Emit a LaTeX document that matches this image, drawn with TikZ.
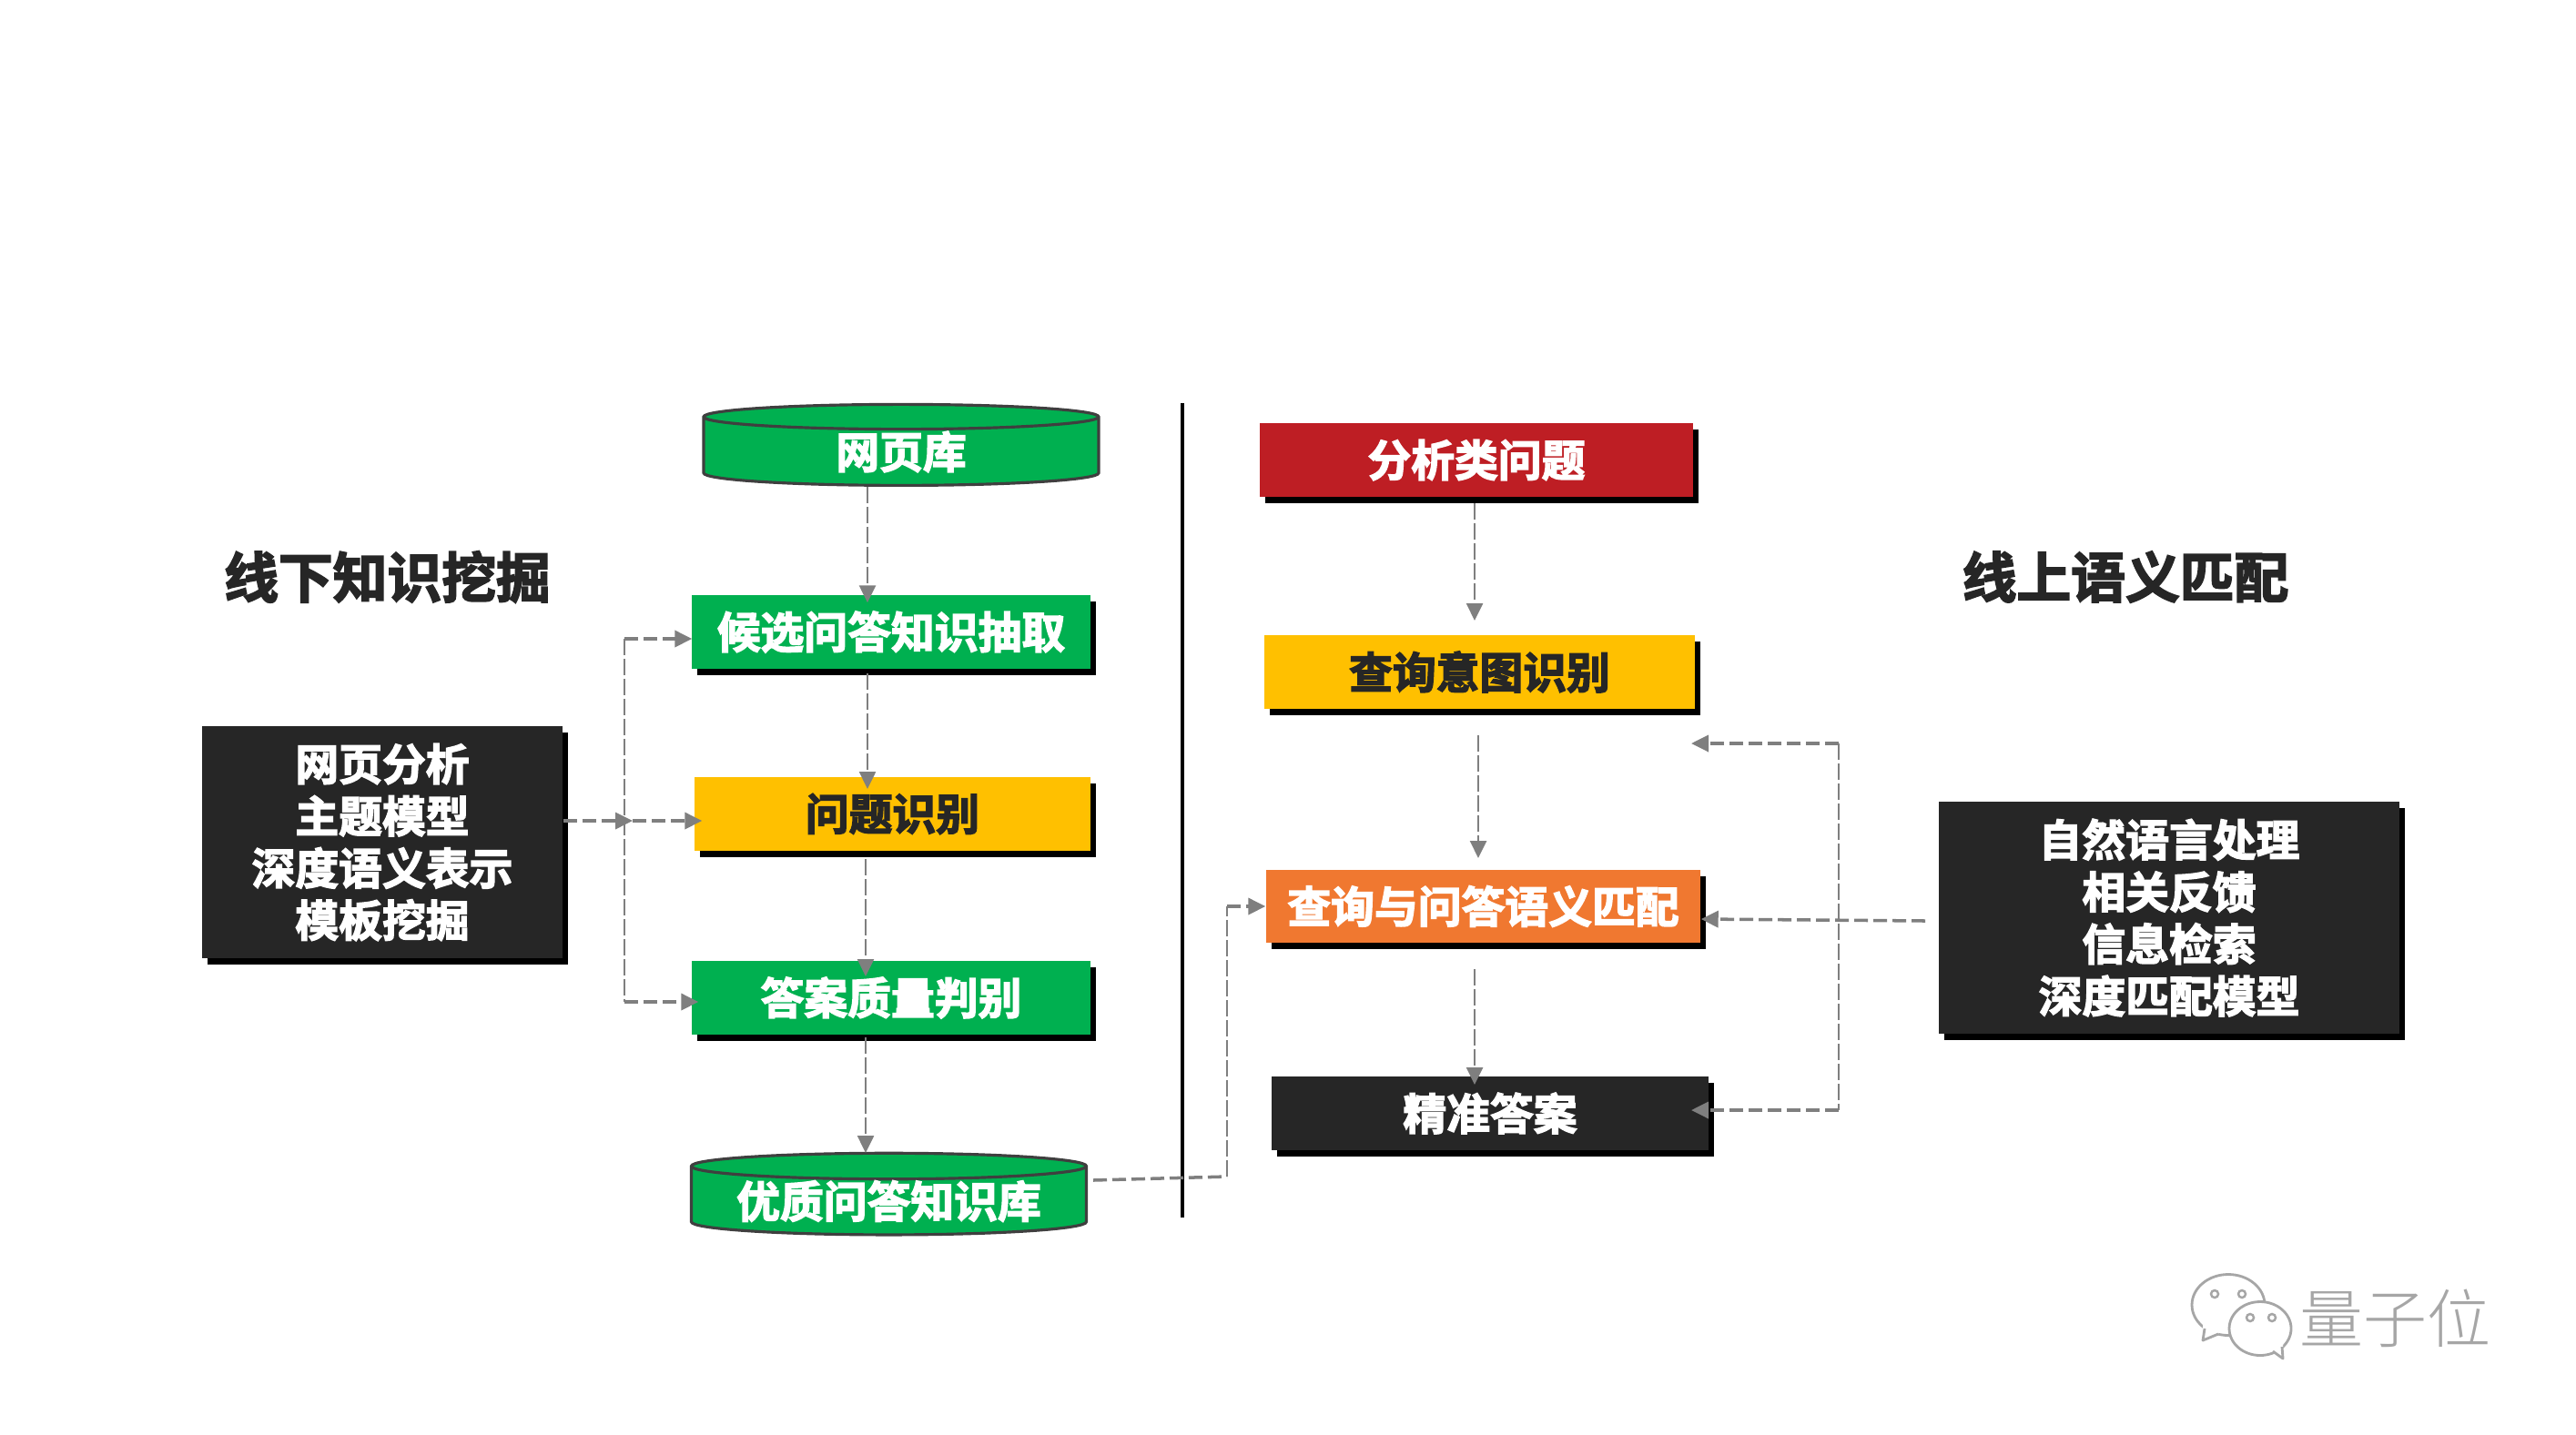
\documentclass[tikz,border=0pt]{standalone}
\usepackage{fontspec}
\setmainfont{Noto Sans CJK SC}[BoldFont={Noto Sans CJK SC Bold},BoldFeatures={FakeBold=3}]
\newfontfamily\wmfont{Noto Sans CJK SC Light}
\usetikzlibrary{arrows.meta,positioning,shapes.geometric,calc}
\definecolor{boxgreen}{HTML}{00B050}
\definecolor{boxyellow}{HTML}{FFC000}
\definecolor{boxred}{HTML}{BE1E24}
\definecolor{boxorange}{HTML}{F07830}
\definecolor{boxdark}{HTML}{262626}
\definecolor{arrowgray}{HTML}{7F7F7F}
\definecolor{cylline}{HTML}{3F3F3F}
\definecolor{wmgray}{HTML}{A6A6A6}
\tikzset{
  stepbox/.style={rectangle,inner sep=0pt,align=center,font=\fontsize{13.6}{16.3}\selectfont\bfseries,text=white,
    preaction={draw=none,fill=black,transform canvas={xshift=0.06cm,yshift=-0.065cm}}},
  dbnode/.style={cylinder,shape border rotate=90,aspect=0.19,draw=cylline,line width=0.9pt,inner sep=0pt,
    cylinder uses custom fill,cylinder body fill=boxgreen,cylinder end fill=boxgreen,
    minimum width=4.34cm,font=\fontsize{13.6}{16.3}\selectfont\bfseries,text=white},
  titlenode/.style={font=\fontsize{17}{20}\selectfont\bfseries,text=boxdark,inner sep=0pt},
  thinarrow/.style={-{Triangle[length=1.9mm,width=1.8mm]},line width=0.7pt,dash pattern=on 1.8mm off 0.4mm,arrowgray},
  fatarrow/.style={-{Triangle[length=1.9mm,width=1.8mm]},line width=1pt,dash pattern=on 1.5mm off 0.6mm,arrowgray},
  fatline/.style={line width=1pt,dash pattern=on 1.5mm off 0.6mm,arrowgray},
  thinline/.style={line width=0.7pt,dash pattern=on 1.8mm off 0.4mm,arrowgray},
  bubble/.style={draw=wmgray,fill=white,line width=0.8pt,line join=round},
  bubbleeye/.style={draw=wmgray,fill=white,line width=0.7pt}
}
\begin{document}
\begin{tikzpicture}
\useasboundingbox (0,0) rectangle (28.3,-15.76);

% left column
\node[titlenode] (offtitle) at (4.255,-6.34) {线下知识挖掘};
\node[dbnode,minimum height=0.89cm] (webdb) at (9.9,-4.965) {网页库};
\node[stepbox,fill=boxgreen,minimum width=4.38cm,minimum height=0.81cm] (cand) at (9.79,-6.945) {候选问答知识抽取};
\node[stepbox,fill=boxyellow,text=boxdark,minimum width=4.35cm,minimum height=0.81cm] (ques) at (9.805,-8.945) {问题识别};
\node[stepbox,fill=boxgreen,minimum width=4.38cm,minimum height=0.81cm] (qual) at (9.79,-10.965) {答案质量判别};
\node[dbnode,aspect=0.085,minimum height=0.89cm] (qadb) at (9.765,-13.2) {优质问答知识库};
\node[stepbox,fill=boxdark,minimum width=3.96cm,minimum height=2.55cm] (mine) at (4.2,-9.255) {网页分析\\主题模型\\深度语义表示\\模板挖掘};

\draw[line width=1pt,black] (12.99,-4.43) coordinate (sepa) -- (12.99,-13.38) coordinate (sepb);

% right column
\node[titlenode] (ontitle) at (23.35,-6.34) {线上语义匹配};
\node[stepbox,fill=boxred,minimum width=4.76cm,minimum height=0.81cm] (kind) at (16.22,-5.055) {分析类问题};
\node[stepbox,fill=boxyellow,text=boxdark,minimum width=4.73cm,minimum height=0.81cm] (intent) at (16.255,-7.385) {查询意图识别};
\node[stepbox,fill=boxorange,minimum width=4.77cm,minimum height=0.80cm] (match) at (16.295,-9.96) {查询与问答语义匹配};
\node[stepbox,fill=boxdark,minimum width=4.80cm,minimum height=0.81cm] (exact) at (16.37,-12.235) {精准答案};
\node[stepbox,fill=boxdark,minimum width=5.06cm,minimum height=2.55cm] (tools) at (23.83,-10.085) {自然语言处理\\相关反馈\\信息检索\\深度匹配模型};

% left arrows
\draw[thinarrow] ([xshift=-0.37cm]webdb.south) -- ([xshift=-0.26cm,yshift=-0.09cm]cand.north);
\draw[thinarrow] (9.53,-7.40) -- (9.53,-8.67);
\draw[thinarrow] (9.51,-9.44) -- (9.51,-10.73);
\draw[thinarrow] (9.51,-11.40) -- (9.51,-12.67);

\coordinate (branch) at (6.86,-9.02);
\draw[fatarrow] (mine.east |- branch) -- ([xshift=0.09cm]branch);
\draw[fatarrow] ([xshift=0.09cm]branch) -- ([xshift=0.09cm]ques.west |- branch);
\draw[fatarrow] (branch |- 0,-7.02) coordinate (ba) -- ([xshift=0.01cm]cand.west |- ba);
\draw[fatarrow] (branch |- 0,-11.01) coordinate (bb) -- ([xshift=0.08cm]qual.west |- bb);
\draw[thinline] (ba) -- (bb);

% right arrows
\draw[thinarrow] (16.20,-5.53) -- (16.20,-6.82);
\draw[thinarrow] (16.24,-8.08) -- (16.24,-9.43);
\draw[thinarrow] (16.20,-10.65) -- (16.20,-11.92);
\draw[fatarrow] (21.15,-10.12) -- (match.east |- 0,-10.10);
\coordinate (fb) at (20.20,-8.17);
\coordinate (fc) at (20.20,-12.20);
\draw[thinline] (fb) -- (fc);
\draw[fatarrow] (fb) -- (18.58,-8.17);
\draw[fatarrow] (fc) -- (18.58,-12.20);
\draw[fatline] (12.01,-12.97) -- (13.48,-12.93) coordinate (qb);
\draw[thinline] (qb) -- (13.48,-9.96) coordinate (qc);
\draw[fatarrow] (qc) -- (match.west);

% watermark
\draw[bubble] (24.48,-14.34) ellipse[x radius=0.40,y radius=0.335];
\fill[white] (24.20,-14.56) -- (24.20,-14.73) -- (24.40,-14.64) -- cycle;
\draw[bubble,fill=none] (24.22,-14.60) -- (24.20,-14.73) -- (24.37,-14.66);
\draw[bubble] (24.83,-14.60) ellipse[x radius=0.34,y radius=0.295];
\fill[white] (24.95,-14.84) -- (25.08,-14.93) -- (25.08,-14.78) -- cycle;
\draw[bubble,fill=none] (24.97,-14.85) -- (25.08,-14.93) -- (25.07,-14.80);
\foreach \ex/\ey in {24.33/-14.22,24.63/-14.22,24.72/-14.48,24.96/-14.48}
  \draw[bubbleeye] (\ex,\ey) circle[radius=0.04];
\node[font=\wmfont\fontsize{19.9}{22}\selectfont,text=wmgray,inner sep=0pt] (mark) at (26.31,-14.49) {量子位};
\end{tikzpicture}
\end{document}
